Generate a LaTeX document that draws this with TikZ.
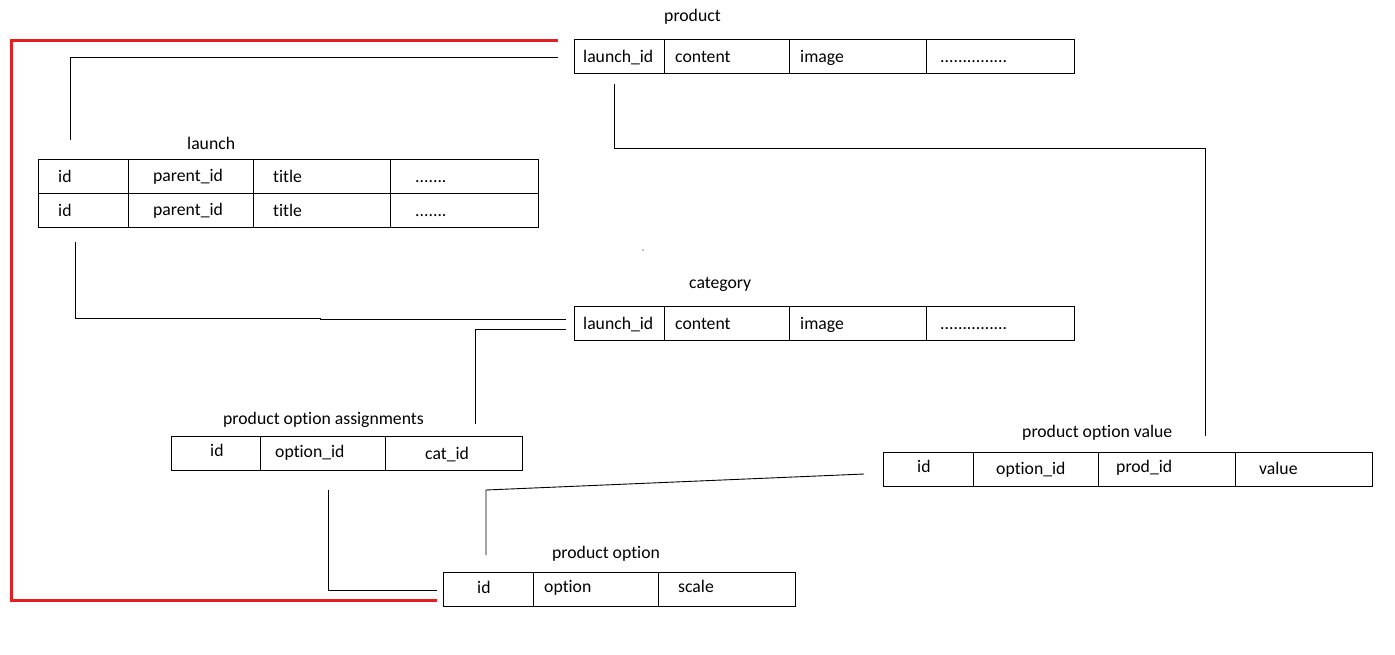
\documentclass[tikz,border=0pt]{standalone}
\usepackage{fontspec}
\setmainfont{Carlito}[Ligatures={NoCommon}]
\begin{document}
\begin{tikzpicture}[x=1pt,y=-1pt,
  tbl/.style={draw=black,line width=1.3pt,minimum height=34pt,inner sep=0pt,anchor=north west},
  div/.style={line width=1pt},
  txt/.style={anchor=base west,inner sep=0pt,font=\fontsize{17.7}{20}\selectfont},
  link/.style={draw=black,line width=0.9pt},
  redlink/.style={draw={rgb,255:red,228;green,30;blue,36},line width=3pt}]
\useasboundingbox (0,0) rectangle (1395,654);
% ---------- product ----------
\node[tbl,minimum width=500pt] (product) at (574,39) {};
\draw[div] (664,39) -- (664,73) (789,39) -- (789,73) (926,39) -- (926,73);
\node[txt] (productT) at (664,21.7) {product};
\node[txt] (p1) at (583,62) {launch\_id};
\node[txt] (p2) at (675,62) {content};
\node[txt] (p3) at (800,62) {image};
\node[txt] (p4) at (940,62) {...............};
% ---------- launch ----------
\node[tbl,minimum width=500pt,minimum height=68pt] (launch) at (38,159) {};
\draw[div] (38,193) -- (538,193);
\draw[div] (128,159) -- (128,227) (253,159) -- (253,227) (390,159) -- (390,227);
\node[txt] (launchT) at (187,149) {launch};
\node[txt] (l1) at (58,182.7) {id};
\node[txt] (l2) at (153,181) {parent\_id};
\node[txt] (l3) at (273,182.3) {title};
\node[txt] (l4) at (415,182) {.......};
\node[txt] (l5) at (58,216.7) {id};
\node[txt] (l6) at (153,215) {parent\_id};
\node[txt] (l7) at (273,216) {title};
\node[txt] (l8) at (415,216) {.......};
% ---------- category ----------
\node[tbl,minimum width=500pt] (category) at (574,306) {};
\draw[div] (664,306) -- (664,340) (789,306) -- (789,340) (926,306) -- (926,340);
\node[txt] (categoryT) at (689,288.7) {category};
\node[txt] (c1) at (583,329) {launch\_id};
\node[txt] (c2) at (675,329) {content};
\node[txt] (c3) at (800,329) {image};
\node[txt] (c4) at (940,329) {...............};
% ---------- product option assignments ----------
\node[tbl,minimum width=351pt] (poa) at (171,436) {};
\draw[div] (260,436) -- (260,470) (385,436) -- (385,470);
\node[txt] (poaT) at (223,424) {product option assignments};
\node[txt] (a1) at (210,456.7) {id};
\node[txt] (a2) at (275,457.7) {option\_id};
\node[txt] (a3) at (425,459.3) {cat\_id};
% ---------- product option value ----------
\node[tbl,minimum width=489pt] (pov) at (883,452) {};
\draw[div] (973,452) -- (973,486) (1098,452) -- (1098,486) (1235,452) -- (1235,486);
\node[txt] (povT) at (1022,437.7) {product option value};
\node[txt] (v1) at (917,472.7) {id};
\node[txt] (v2) at (996,474) {option\_id};
\node[txt] (v3) at (1116,472) {prod\_id};
\node[txt] (v4) at (1259,474) {value};
% ---------- product option ----------
\node[tbl,minimum width=352pt] (po) at (443,572) {};
\draw[div] (533,572) -- (533,606) (658,572) -- (658,606);
\node[txt] (poT) at (552,558.7) {product option};
\node[txt] (o1) at (477,593.3) {id};
\node[txt] (o2) at (544,592) {option};
\node[txt] (o3) at (678,592.7) {scale};
% ---------- connector ends ----------
\coordinate (r1) at (558,40);
\coordinate (r2) at (437,600);
\coordinate (k1) at (558,57);
\coordinate (k2) at (70,140);
\coordinate (m1) at (614,84);
\coordinate (m2) at (1205,436);
\coordinate (n1) at (75,242);
\coordinate (n2) at (566,319);
\coordinate (q1) at (566,329);
\coordinate (q2) at (475,424);
\coordinate (s1) at (328,490);
\coordinate (s2) at (437,590);
\coordinate (t1) at (864,474);
\coordinate (t2) at (486,555);
% ---------- connectors ----------
\draw[redlink] (r1) -- (11,40) -- (11,600) -- (r2);
\draw[link] (k1) -- (k2 |- k1) -- (k2);
\draw[link] (m1) -- (m1 |- 0,148) -- (m2 |- 0,148) -- (m2);
\draw[link] (n1) -- (75,318) -- (320,318) -- (320,319) -- (n2);
\draw[link] (q1) -- (q2 |- q1) -- (q2);
\draw[link] (s1) -- (s1 |- s2) -- (s2);
\draw[link] (t1) -- (486,490) -- (t2);
\fill (643,250) circle (0.7pt);
\end{tikzpicture}
\end{document}
